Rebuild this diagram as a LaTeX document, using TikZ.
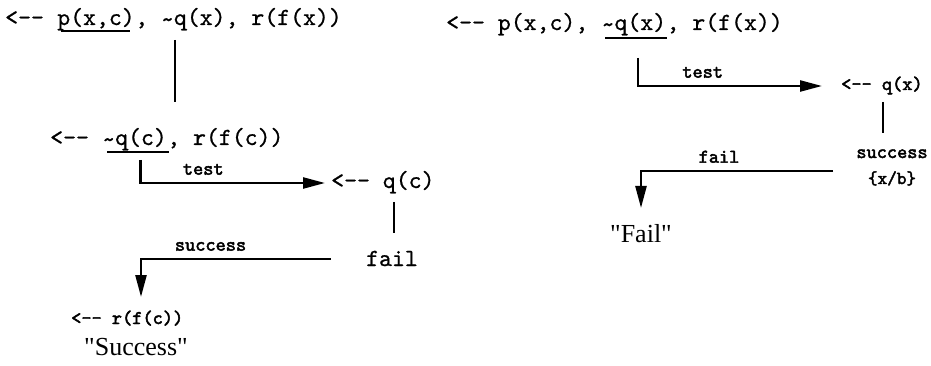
\documentclass[tikz,border=0pt]{standalone}
\usepackage{fontspec}
\setmainfont{Liberation Serif}
\newfontfamily\codefont{lmmono10-regular}[Extension=.otf, FakeBold=0.8]
\newfontfamily\codebold{lmmono10-regular}[Extension=.otf, FakeBold=2.4]
\usetikzlibrary{arrows.meta,calc}
\newcommand\arrl{<-{}-}
\newcommand\spc{\kern.525em}
\newcommand\tld{\raisebox{-0.09em}{\textasciitilde}}
\tikzset{
  big/.style={font=\codefont\fontsize{24.6}{27}\selectfont, inner sep=0pt, anchor=base west},
  small/.style={font=\codebold\fontsize{19.4}{22}\selectfont, inner sep=0pt},
  serif/.style={font=\rmfamily\fontsize{26}{30}\selectfont, inner sep=0pt, anchor=base},
  conn/.style={line width=2.4pt},
  ulin/.style={line width=2pt},
  arr/.style={line width=2.4pt, -{Triangle[length=22pt,width=11pt]}},
  lab/.style={font=\codebold\fontsize{19.4}{22}\selectfont, inner sep=0pt, anchor=south, yshift=7pt},
}
\begin{document}
\begin{tikzpicture}[x=1pt,y=-1pt]
\useasboundingbox (0,0) rectangle (931,366);
% ---------- left tree ----------
\node[big] (l1a) at (5,25) {\arrl\spc};
\node[big] (l1b) at (l1a.base east) {p(x,c)};
\node[big] (l1c) at (l1b.base east) {,\spc\tld q(x),\spc r(f(x))};
\draw[ulin] ($(l1b.base west)+(4,6)$) -- ($(l1b.base east)+(-5,6)$);

\node[big] (l2a) at (50,145) {\arrl\spc};
\node[big] (l2b) at (l2a.base east) {\tld q(c)};
\node[big] (l2c) at (l2b.base east) {,\spc r(f(c))};
\draw[ulin] ($(l2b.base west)+(5,7)$) -- ($(l2b.base east)+(2,7)$);

\coordinate (vx1) at (175,0);
\draw[conn] ($(l1b.base -| vx1)+(0,15)$) -- ($(l2b.base -| vx1)+(0,-43)$);

\node[big] (qc) at (331,188) {\arrl\spc q(c)};
\draw[arr] ($(l2b.base)+(6,15)$) |- ($(qc.base west)+(-6,-5)$)
  node[lab, pos=0.67] (t1) {test};

\node[big, anchor=base] (fail) at (392,266) {fail};
\coordinate (vx2) at (394,0);
\draw[conn] ($(qc.base -| vx2)+(0,14)$) -- ($(fail.base -| vx2)+(0,-33)$);

\node[small, anchor=base west] (rfc) at (71,324) {\arrl\spc r(f(c))};
\draw[arr] ($(fail.base west)+(-35,-7)$) -| ($(rfc.base west)+(70,-27)$)
  node[lab, pos=0.317] (s1) {success};
\node[serif] (succ) at (136,355) {\textquotedbl Success\textquotedbl};

% ---------- right tree ----------
\node[big] (r1a) at (446,30) {\arrl\spc p(x,c),\spc};
\node[big] (r1b) at (r1a.base east) {\tld q(x)};
\node[big] (r1c) at (r1b.base east) {,\spc r(f(x))};
\draw[ulin] ($(r1b.base west)+(4,8)$) -- ($(r1b.base east)+(1,8)$);

\node[small, anchor=base west] (qx) at (841,90) {\arrl\spc q(x)};
\draw[arr] ($(r1b.base)+(4,28)$) |- ($(qx.base west)+(-19,-4)$)
  node[lab, pos=0.676] (t2) {test};

\node[small, anchor=base] (sx) at (892,158) {success};
\node[small, anchor=base, font=\codebold\fontsize{18.3}{21}\selectfont] (xb) at (892,184) {\{x/b\}};
\coordinate (vx3) at (883,0);
\draw[conn] ($(qx.base -| vx3)+(0,12)$) -- ($(sx.base -| vx3)+(0,-25)$);

\node[serif] (fl) at (641,242) {\textquotedbl Fail\textquotedbl};
\draw[arr] ($(sx.base west)+(-23,13)$) -| ($(fl.base)+(0,-34)$)
  node[lab, pos=0.297] (f1) {fail};
\end{tikzpicture}
\end{document}
